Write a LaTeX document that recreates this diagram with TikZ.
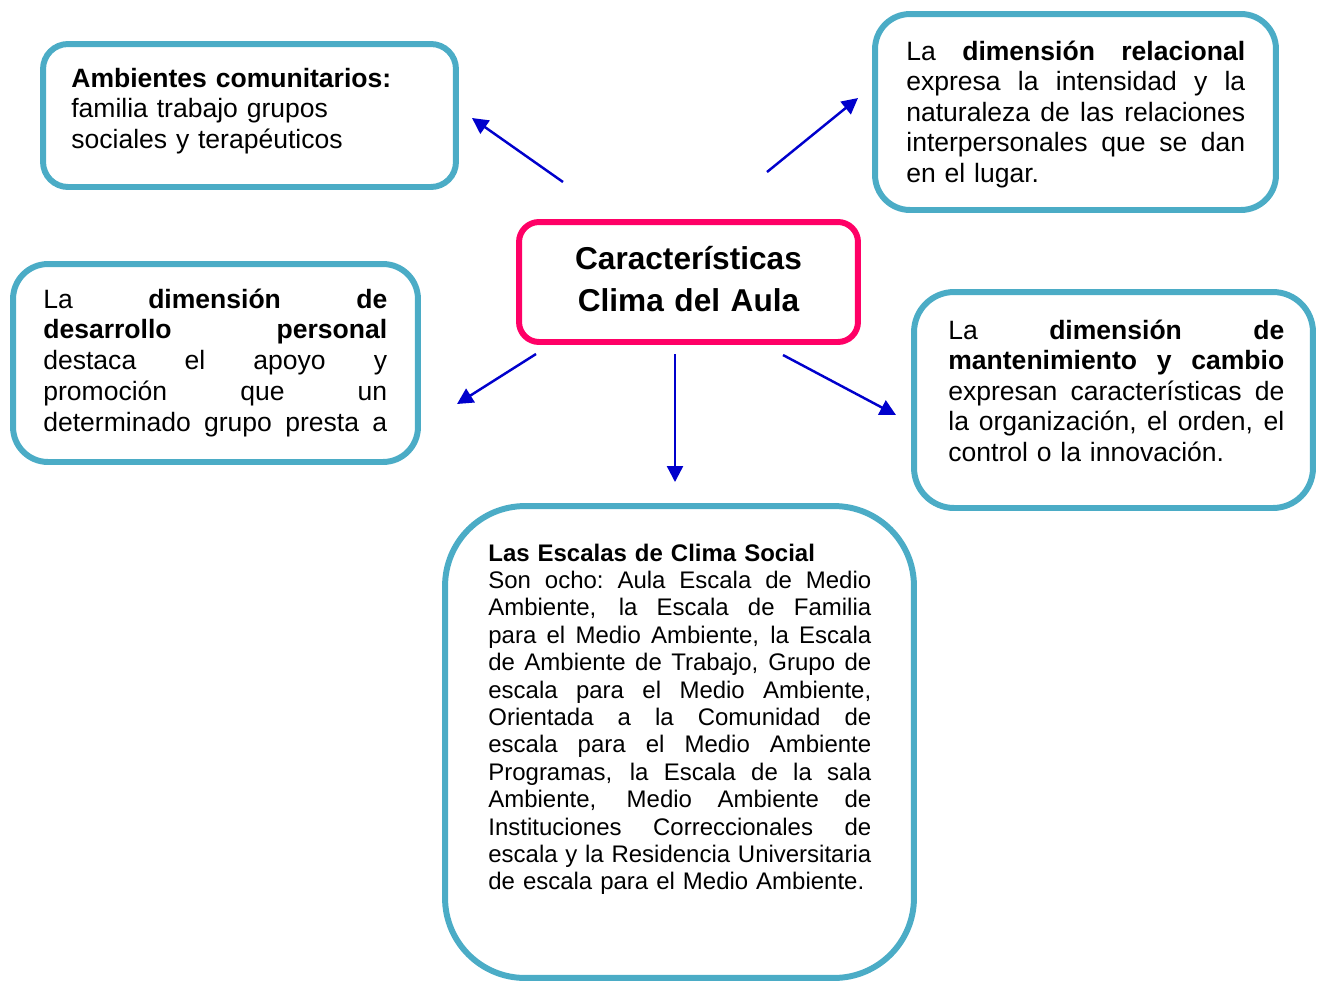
\documentclass[tikz,border=0pt]{standalone}
\usepackage{fontspec}
\setmainfont{Liberation Sans}
\usetikzlibrary{arrows.meta}
\definecolor{boxblue}{HTML}{4BACC6}
\definecolor{titlepink}{HTML}{FF0066}
\definecolor{arrowblue}{HTML}{0000CC}
\newcommand{\jline}[1]{\leavevmode\hbox to \hsize{\spaceskip=0.278em plus 1fil\relax\xspaceskip=\spaceskip #1}}

\begin{document}
\begin{tikzpicture}[x=0.02cm, y=0.02cm]
\tikzstyle{every node}+=[inner sep=0pt]
\tikzstyle{bluebox}=[draw=boxblue, line width=3.4pt]
\tikzstyle{pinkbox}=[draw=titlepink, line width=3.4pt, rounded corners=0.4cm]
\tikzstyle{bodytext}=[anchor=base west, align=left, font=\fontsize{15.1}{17.4}\selectfont]
\tikzstyle{link}=[arrowblue, line width=1.4pt, -{Triangle[length=0.32cm,width=0.32cm]}]
\useasboundingbox (0,0) rectangle (1317,-981);
% frames
\node [bluebox, rounded corners=0.5cm, minimum width=8.26cm, minimum height=2.86cm] (ambbox) at (249.5,-115.5) {};
\node [bluebox, rounded corners=0.7cm, minimum width=8.02cm, minimum height=3.92cm] (relbox) at (1075.5,-112) {};
\node [bluebox, rounded corners=0.7cm, minimum width=8.1cm, minimum height=3.96cm] (desbox) at (215.5,-363) {};
\node [bluebox, rounded corners=0.8cm, minimum width=7.98cm, minimum height=4.32cm] (manbox) at (1113.5,-400) {};
\node [bluebox, rounded corners=1.6cm, minimum width=9.38cm, minimum height=9.44cm] (escbox) at (679.5,-742) {};
\node [pinkbox, minimum width=6.78cm, minimum height=2.4cm] (carbox) at (688.5,-282) {};
% texts
\node [anchor=base, align=center, text width=6.5cm, font=\bfseries\fontsize{18}{24.4}\selectfont] (cartext) at (688.5,-269) {Características\\Clima del Aula};
\node [bodytext, text width=7cm] (ambtext) at (71,-87) {\textbf{Ambientes comunitarios:}\\familia trabajo grupos\\sociales y terapéuticos};
\node [bodytext, text width=6.78cm] (reltext) at (906,-60) {\jline{La \textbf{dimensión relacional}}\\
\jline{expresa la intensidad y la}\\
\jline{naturaleza de las relaciones}\\
\jline{interpersonales que se dan}\\
en el lugar.};
\node [bodytext, text width=6.88cm, font=\fontsize{15.1}{17.6}\selectfont] (destext) at (43,-308) {\jline{La \textbf{dimensión de}}\\
\jline{\textbf{desarrollo personal}}\\
\jline{destaca el apoyo y}\\
\jline{promoción que un}\\
\jline{determinado grupo presta a}};
\node [bodytext, text width=6.72cm] (mantext) at (948,-339) {\jline{La \textbf{dimensión de}}\\
\jline{\textbf{mantenimiento y cambio}}\\
\jline{expresan características de}\\
\jline{la organización, el orden, el}\\
control o la innovación.};
\node [bodytext, text width=7.66cm, font=\fontsize{13.65}{15.6}\selectfont] (esctext) at (488,-561) {\textbf{Las Escalas de Clima Social}\\
\jline{Son ocho: Aula Escala de Medio}\\
\jline{Ambiente, la Escala de Familia}\\
\jline{para el Medio Ambiente, la Escala}\\
\jline{de Ambiente de Trabajo, Grupo de}\\
\jline{escala para el Medio Ambiente,}\\
\jline{Orientada a la Comunidad de}\\
\jline{escala para el Medio Ambiente}\\
\jline{Programas, la Escala de la sala}\\
\jline{Ambiente, Medio Ambiente de}\\
\jline{Instituciones Correccionales de}\\
\jline{escala y la Residencia Universitaria}\\
de escala para el Medio Ambiente.};
% arrows
\coordinate (ambfrom) at (563,-182);
\coordinate (ambto) at (472,-118);
\coordinate (relfrom) at (767,-172);
\coordinate (relto) at (858,-98);
\coordinate (desfrom) at (536,-354);
\coordinate (desto) at (457,-404);
\coordinate (escfrom) at (675,-354);
\coordinate (escto) at (675,-482);
\coordinate (manfrom) at (783,-355);
\coordinate (manto) at (896,-415);
\draw [link] (ambfrom) -- (ambto);
\draw [link] (relfrom) -- (relto);
\draw [link] (desfrom) -- (desto);
\draw [link] (escfrom) -- (escto);
\draw [link] (manfrom) -- (manto);
\end{tikzpicture}
\end{document}
